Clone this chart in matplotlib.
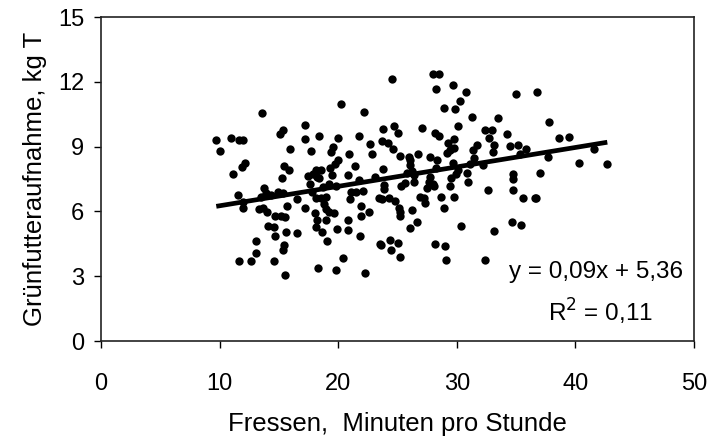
import matplotlib
matplotlib.use("Agg")
import matplotlib.pyplot as plt
import numpy as np

plt.rcParams['font.family'] = ['Liberation Sans', 'DejaVu Sans']

fressen = [9.72, 10.06, 10.98, 11.09, 11.59, 11.63, 11.63, 12.01, 11.86, 12.17,
           11.94, 12.01, 12.66, 13.08, 13.08, 13.58, 13.47, 13.73, 13.93, 13.31,
           13.66, 14.00, 14.08, 14.31, 14.61, 14.69, 14.69, 14.58, 14.92, 15.07,
           15.38, 15.15, 15.30, 15.42, 15.38, 15.46, 15.38, 15.53, 15.57, 15.49,
           15.68, 15.84, 15.95, 16.49, 16.49, 17.18, 17.18, 17.21, 17.48, 17.60,
           17.67, 17.87, 17.75, 18.02, 18.09, 18.13, 18.13, 18.21, 18.29, 18.40,
           18.25, 18.36, 18.52, 18.59, 18.67, 18.74, 18.82, 18.97, 18.97, 18.97,
           19.09, 19.20, 19.20, 19.28, 19.36, 19.47, 19.59, 19.66, 19.78, 19.74,
           19.85, 19.93, 20.01, 19.97, 20.20, 20.39, 20.81, 20.85, 20.85, 20.92,
           20.96, 21.12, 21.42, 21.50, 21.77, 21.77, 21.85, 21.92, 21.96, 22.07,
           22.19, 22.26, 22.57, 22.65, 22.84, 23.14, 23.41, 23.49, 23.60, 23.68,
           23.68, 23.76, 23.79, 23.83, 23.83, 24.18, 24.29, 24.33, 24.45, 24.56,
           24.64, 24.67, 24.83, 25.02, 25.02, 25.13, 25.17, 25.21, 25.21, 25.25,
           25.29, 25.63, 25.82, 25.94, 26.05, 26.09, 26.09, 26.21, 26.24, 26.36,
           26.40, 26.63, 26.74, 26.93, 27.05, 27.20, 27.32, 27.51, 27.70, 27.66,
           27.74, 27.96, 28.00, 28.08, 28.16, 28.23, 28.19, 28.27, 28.31, 28.46,
           28.46, 28.69, 28.88, 28.96, 29.00, 29.11, 29.15, 29.23, 29.42, 29.46,
           29.53, 29.65, 29.72, 29.76, 29.76, 29.80, 29.84, 29.92, 30.07, 30.07,
           30.30, 30.37, 30.76, 30.87, 30.91, 31.14, 31.29, 31.37, 31.41, 31.71,
           32.21, 32.36, 32.36, 32.59, 32.75, 32.94, 33.05, 33.13, 33.13, 33.51,
           34.20, 34.51, 34.66, 34.70, 34.74, 34.77, 34.97, 35.20, 35.35, 35.42,
           35.54, 35.85, 36.57, 36.72, 36.80, 36.99, 37.68, 37.80, 38.64, 39.44,
           40.32, 41.58, 42.69]

gruenfutter = [9.32, 8.78, 9.39, 7.72, 6.75, 3.69, 9.29, 9.29, 8.05, 8.24,
               6.44, 6.14, 3.69, 4.63, 4.06, 10.56, 6.66, 7.07, 6.87, 6.12,
               6.15, 5.99, 5.33, 6.75, 3.69, 5.77, 4.88, 5.26, 6.88, 9.58,
               9.77, 5.80, 7.55, 8.12, 6.85, 4.46, 4.20, 5.76, 5.03, 3.06,
               6.26, 7.93, 8.88, 6.56, 4.98, 10.00, 9.35, 6.15, 7.66, 7.29,
               8.80, 7.74, 6.90, 5.91, 5.30, 6.60, 7.93, 7.61, 3.38, 9.48,
               5.60, 7.53, 7.90, 6.63, 5.04, 7.15, 6.34, 6.66, 6.12, 5.58,
               4.61, 5.96, 7.26, 7.99, 8.75, 7.67, 8.97, 5.91, 3.27, 8.21,
               7.17, 5.17, 9.40, 8.37, 10.99, 3.84, 5.60, 5.15, 7.67, 8.67,
               6.56, 6.90, 8.09, 6.90, 9.48, 7.47, 4.85, 6.25, 5.80, 6.94,
               10.59, 3.14, 5.99, 9.10, 8.66, 7.58, 6.60, 4.50, 4.44, 9.24,
               6.58, 7.98, 9.80, 7.20, 7.02, 9.16, 6.63, 4.68, 4.19, 12.15,
               8.89, 9.97, 6.50, 9.64, 4.53, 6.14, 8.56, 3.90, 5.80, 5.99,
               7.18, 7.31, 7.77, 8.53, 8.15, 8.40, 5.25, 6.07, 7.85, 7.34,
               7.69, 5.50, 8.64, 6.66, 9.86, 6.63, 6.37, 7.10, 8.50, 7.34,
               7.58, 7.29, 12.37, 7.18, 9.64, 11.67, 4.47, 8.02, 8.40, 12.34,
               9.48, 6.68, 10.78, 6.15, 4.41, 3.74, 8.72, 9.16, 8.85, 7.18,
               7.53, 8.24, 11.83, 9.35, 6.66, 8.93, 10.75, 7.74, 9.96, 7.93,
               11.13, 5.33, 11.51, 7.77, 7.34, 8.21, 10.39, 8.85, 8.48, 9.09,
               8.15, 9.77, 3.77, 6.98, 9.39, 9.77, 8.74, 9.09, 5.09, 10.34,
               9.59, 9.04, 5.49, 6.98, 7.50, 7.74, 11.42, 9.07, 8.66, 5.39,
               6.60, 8.88, 6.63, 6.60, 11.54, 7.77, 8.50, 10.12, 9.39, 9.45,
               8.26, 8.91, 8.20]

slope = 0.09
intercept = 5.36
x_ticks = [0, 10, 20, 30, 40, 50]
y_ticks = [0, 3, 6, 9, 12, 15]

fig = plt.figure(figsize=(7.14, 4.41), dpi=100)
ax = fig.add_axes([101/714, 1 - 341/441, (694-101)/714, (341-17)/441])

ax.scatter(fressen, gruenfutter, s=36, color='black', zorder=3, linewidths=0)
xl = np.array([min(fressen), max(fressen)])
ax.plot(xl, slope * xl + intercept, color='black', lw=3.4, zorder=4,
        solid_capstyle='butt')

ax.set_xlim(0, 50)
ax.set_ylim(0, 15)
ax.set_xticks(x_ticks)
ax.set_yticks(y_ticks)
ax.tick_params(direction='out', length=5, width=1, labelsize=17, color='black')
ax.tick_params(axis='x', pad=18)
ax.tick_params(axis='y', pad=7)
for s in ax.spines.values():
    s.set_linewidth(1.2)
    s.set_color('#222222')

ax.set_xlabel('Fressen,  Minuten pro Stunde', fontsize=18.5, labelpad=12)
ax.set_ylabel('Grünfutteraufnahme, kg T', fontsize=18.5, labelpad=8)

ax.text(0.981, 0.213, 'y = 0,09x + 5,36', transform=ax.transAxes,
        ha='right', va='center', fontsize=17.5)
ax.text(0.931, 0.09, r'R$^2$ = 0,11', transform=ax.transAxes,
        ha='right', va='center', fontsize=17.5)

fig.savefig('out.png', dpi=100)
